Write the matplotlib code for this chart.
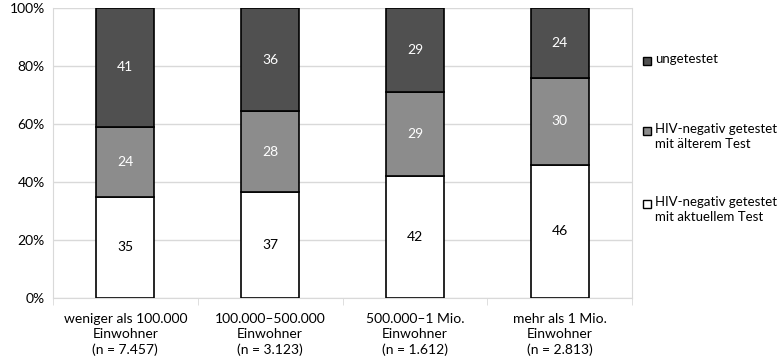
import matplotlib
matplotlib.use("Agg")
import matplotlib.pyplot as plt
import numpy as np
from matplotlib.patches import Rectangle

categories = ["weniger als 100.000\nEinwohner\n(n = 7.457)",
              "100.000–500.000\nEinwohner\n(n = 3.123)",
              "500.000–1 Mio.\nEinwohner\n(n = 1.612)",
              "mehr als 1 Mio.\nEinwohner\n(n = 2.813)"]
aktuell = [35, 37, 42, 46]
aelter = [24, 28, 29, 30]
ungetestet = [41, 36, 29, 24]
series_names = ["HIV-negativ getestet\nmit aktuellem Test",
                "HIV-negativ getestet\nmit älterem Test",
                "ungetestet"]
colors = ["#ffffff", "#8c8c8c", "#505050"]
text_colors = ["black", "white", "white"]

plt.rcParams['font.family'] = ['Lato', 'DejaVu Sans']

W, H = 782, 363
fig = plt.figure(figsize=(W/100, H/100), dpi=100)
ax = fig.add_axes([53/W, 1 - 298/H, (632-53)/W, (298-8)/H])

data = np.array([aktuell, aelter, ungetestet], dtype=float)
totals = data.sum(axis=0)
pct = data / totals * 100
x = np.arange(len(categories))
bottom = np.zeros(len(categories))
for i in range(3):
    bars = ax.bar(x, pct[i], bottom=bottom, width=0.4, color=colors[i],
                  edgecolor="black", linewidth=1.2, zorder=3)
    for j, b in enumerate(bars):
        ax.text(b.get_x() + b.get_width()/2, bottom[j] + pct[i][j]/2,
                str(int(data[i][j])), ha="center", va="center",
                fontsize=10, color=text_colors[i], zorder=4)
    bottom += pct[i]

ax.set_xlim(-0.5, len(categories) - 0.5)
ax.set_ylim(0, 100)
ax.set_yticks(np.arange(0, 101, 20))
ax.set_yticklabels([f"{v}%" for v in range(0, 101, 20)], fontsize=10)
ax.yaxis.grid(True, color="#d9d9d9", linewidth=1.0, zorder=0)
ax.set_axisbelow(True)
ax.tick_params(axis="y", length=0, pad=6)
ax.set_xticks(x)
ax.set_xticklabels(categories, fontsize=10, linespacing=1.3)
ax.tick_params(axis="x", length=0, pad=11)
ax.set_xticks(np.arange(-0.5, len(categories)), minor=True)
ax.tick_params(axis="x", which="minor", length=5, color="#d9d9d9")
ax.spines["top"].set_visible(False)
for s in ["left", "bottom", "right"]:
    ax.spines[s].set_color("#d9d9d9")

# legend, drawn Excel-style with the marker aligned to the first text line
legend_order = [2, 1, 0]
legend_tops = [53, 123, 196]
for k, i in enumerate(legend_order):
    top = legend_tops[k]
    fig.patches.append(Rectangle((643/W, 1 - (top + 12)/H), 8/W, 8/H,
                                 transform=fig.transFigure, facecolor=colors[i],
                                 edgecolor="black", linewidth=1.0))
    fig.text(655/W, 1 - top/H, series_names[i], ha="left", va="top",
             fontsize=9.5, linespacing=1.3)

fig.savefig("out.png", dpi=100)
